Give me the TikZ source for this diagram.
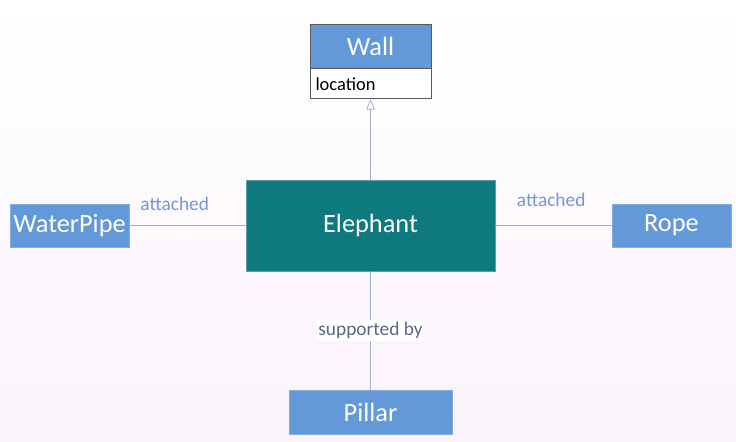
\documentclass[tikz,border=0pt]{standalone}
\usepackage{fontspec}
\setmainfont{Carlito}
\usetikzlibrary{positioning, arrows.meta}
\definecolor{boxblue}{RGB}{99,152,217}
\definecolor{eleteal}{RGB}{14,122,128}
\definecolor{linegray}{RGB}{165,172,212}
\definecolor{lblblue}{RGB}{118,152,208}
\definecolor{lblgray}{RGB}{88,102,140}
\definecolor{bgpink}{RGB}{251,243,251}

\begin{document}
\begin{tikzpicture}[x=0.02cm, y=-0.02cm,
  clsb/.style={draw=boxblue!80!white, fill=boxblue, text=white,
               minimum width=2.38cm, minimum height=0.86cm, inner sep=0pt, font=\fontsize{15}{17}\selectfont},
  eleb/.style={draw=eleteal!70!white, fill=eleteal, text=white,
               minimum width=4.98cm, minimum height=1.82cm, font=\fontsize{15}{17}\selectfont},
  attrb/.style={draw=gray!70!black, fill=white, minimum width=2.42cm, minimum height=0.6cm,
                inner ysep=0pt, inner xsep=0.11cm, text width=2.2cm, align=left, font=\fontsize{10.5}{12}\selectfont},
  conn/.style={draw=linegray, thin},
  lbl/.style={text=lblblue, font=\fontsize{11}{13}\selectfont},
]
% Background
\shade[top color=white, bottom color=bgpink] (0,0) rectangle (736,442);

% Wall class (header + attribute)
\node[clsb, draw=gray!70!black, minimum width=2.42cm, minimum height=0.88cm] (wall) at (370.5,46) {Wall};
\node[attrb, below=0pt of wall] (wallattr) {location};

% Centre class
\node[eleb] (ele) at (370.5,225.5) {Elephant};

% Neighbours
\node[clsb] (pipe) at (69.5,225.5) {WaterPipe};
\node[clsb] (rope) at (671.5,225.5) {Rope};
\node[clsb, minimum width=3.26cm, minimum height=0.88cm] (pillar) at (370.5,412) {Pillar};

% Connectors
\draw[conn, -{Triangle[open, length=6pt, width=5pt]}] (ele.north) -- (wallattr.south);
\draw[conn] (pipe.east) -- node[lbl, pos=0.39, above=5pt] {attached} (ele.west);
\draw[conn] (ele.east) -- node[lbl, pos=0.48, above=7pt] {attached} (rope.west);
\draw[conn] (ele.south) -- node[lbl, text=lblgray, fill=white, inner sep=1pt] {supported by} (pillar.north);
\end{tikzpicture}
\end{document}
